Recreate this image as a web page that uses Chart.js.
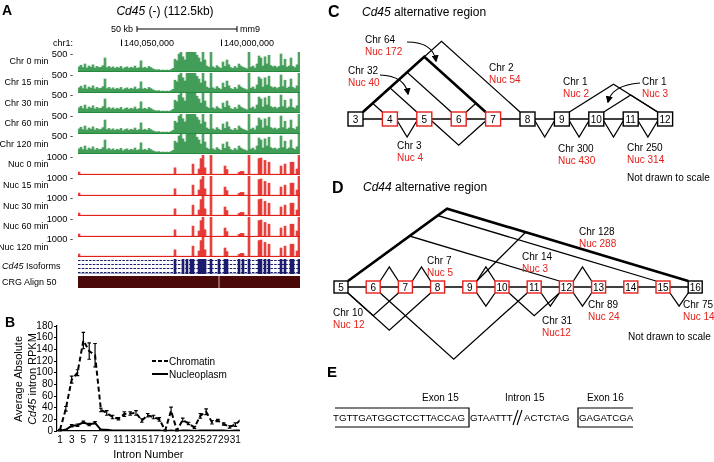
<!DOCTYPE html>
<html>
<head>
<meta charset="utf-8">
<script src="https://cdn.jsdelivr.net/npm/chart.js@4.4.0/dist/chart.umd.min.js"></script>
<style>
  html, body { margin: 0; padding: 0; background: #fff; }
  #page { position: relative; width: 714px; height: 462px; overflow: hidden; }
  #page canvas { position: absolute; }
  #fig { position: absolute; left: 0; top: 0; font-family: 'Liberation Sans', Arial, Helvetica, sans-serif; }
</style>
</head>
<body>
<div id="page">
  <canvas id="chartB" width="244" height="146" style="left:0;top:316px"></canvas>
  <svg id="fig" width="714" height="462"></svg>
</div>
<script>
// ---------- panel B data (intron RPKM) ----------
const introns        = [1,2,3,4,5,6,7,8,9,10,11,12,13,14,15,16,17,18,19,20,21,22,23,24,25,26,27,28,29,30,31,32];
const chromatin      = [2,38,88,100,155,137,130,36,31,24,21,29,30,31,18,27,24,20,1,35,1,19,13,6,26,33,15,18,12,7,11,20];
const chromatinErr   = [1,4,6,5,14,14,20,3,4,3,2,4,3,4,3,3,3,3,1,6,1,3,2,2,4,5,3,2,2,2,3,5];
const nucleoplasm    = [1,2,9,10,15,11,14,2,2,1,1,1,1,1,1,1,1,1,0,1,0,1,1,0,1,1,1,1,1,0,1,1];
const nucleoplasmErr = [1,1,2,2,2,2,2,1,0,0,0,0,0,0,0,0,0,0,0,0,0,0,0,0,0,0,0,0,0,0,0,0];
const xTickValues    = [1,3,5,7,9,11,13,15,17,19,21,23,25,27,29,31];
const yTickValues    = [0,20,40,60,80,100,120,140,160,180];

// ---------- panel A data (browser tracks, 2px bins) ----------
const chrProfile = [130,170,110,200,100,150,120,180,100,140,110,120,160,350,110,140,100,130,90,120,
  100,140,80,110,130,90,120,100,150,90,110,280,100,120,90,140,110,80,60,50,
  60,40,50,40,50,40,60,90,320,280,450,500,380,300,500,500,500,500,500,420,
  350,250,500,300,150,120,500,130,100,160,120,90,250,140,300,180,110,90,140,100,
  200,150,120,100,80,500,120,150,100,200,400,350,150,380,200,420,160,130,150,110,
  140,450,160,320,120,150,350,140,110,180,500];
const nucProfile = [150,40,40,40,40,40,40,40,40,40,40,40,40,40,40,40,40,40,40,40,
  40,40,40,40,40,40,40,40,40,40,40,40,40,40,40,40,40,40,40,40,
  40,40,40,40,40,40,40,40,360,40,40,40,40,40,40,40,40,545,40,40,
  300,820,1000,360,40,40,1000,40,40,40,40,40,40,450,270,40,40,40,40,40,
  130,180,180,40,40,1000,40,40,40,40,820,850,40,730,40,640,40,40,40,40,
  40,450,40,545,40,40,640,640,40,300,1000];
const isoformExonBins = [48,52,54,56,57,60,61,62,63,66,70,73,74,80,82,85,90,91,93,95,101,103,106,107,110];
const chrLabels  = ['Chr 0 min','Chr 15 min','Chr 30 min','Chr 60 min','Chr 120 min'];
const nucLabels  = ['Nuc 0 min','Nuc 15 min','Nuc 30 min','Nuc 60 min','Nuc 120 min'];
const chrMax = 500, nucMax = 1000;

// ---------- panel C / D data (splice junction read counts) ----------
const cd45Exons    = [3,4,5,6,7,8,9,10,11,12];
const cd45Variable = [4,5,6,7];
const cd45Upper    = [[3,8],[3,4],[3,5],[3,6],[6,7],[9,12],[10,12]];
const cd45Main     = [[3,7]];
const cd45Lower    = [[4,5],[5,7],[8,9],[9,10],[10,11],[11,12]];
const cd45Chr      = [64,32,2,1,1,3,300,250];
const cd45Nuc      = [172,40,54,2,3,4,430,314];

const cd44Exons    = [5,6,7,8,9,10,11,12,13,14,15,16];
const cd44Variable = [6,7,8,9,10,11,12,13,14,15];
const cd44Upper    = [[5,15],[5,12],[9,16],[6,7],[7,8],[9,10],[12,13]];
const cd44Main     = [[5,16]];
const cd44Lower    = [[5,7],[5,8],[6,11],[9,10],[10,12],[11,12],[12,13],[15,16]];
const cd44Chr      = [128,7,14,10,31,89,75];
const cd44Nuc      = [288,5,3,12,12,24,14];

// ---------- helpers ----------
const FONT = "'Liberation Sans', Arial, Helvetica, sans-serif";
const RED = '#e3201b', GREEN = '#23893b', NAVY = '#1c1c6e';
Chart.defaults.font.family = FONT;
Chart.defaults.color = '#000';

const svg = document.getElementById('fig');
const NS = 'http://www.w3.org/2000/svg';
function el(tag, attrs) {
  const e = document.createElementNS(NS, tag);
  for (const k in attrs) e.setAttribute(k, attrs[k]);
  svg.appendChild(e);
  return e;
}
function txt(x, y, s, attrs = {}) {
  const t = el('text', Object.assign({ x, y, 'font-size': 10, fill: '#000' }, attrs));
  t.textContent = s;
  return t;
}
// parts: [[text, italic], ...]
function rich(x, y, parts, attrs = {}) {
  const t = el('text', Object.assign({ x, y, 'font-size': 10, fill: '#000' }, attrs));
  parts.forEach(([s, it]) => {
    const sp = document.createElementNS(NS, 'tspan');
    if (it) sp.setAttribute('font-style', 'italic');
    sp.textContent = s;
    t.appendChild(sp);
  });
  return t;
}
function seg(x1, y1, x2, y2, w = 1.3, color = '#000', extra = {}) {
  return el('line', Object.assign({ x1, y1, x2, y2, stroke: color, 'stroke-width': w }, extra));
}
function poly(pts, w = 1.3) {
  return el('polyline', { points: pts.map(p => p.join(',')).join(' '), fill: 'none', stroke: '#000', 'stroke-width': w, 'stroke-linejoin': 'miter' });
}

// ---------- panel A: tracks ----------
const page = document.getElementById('page');
function trackChart(top, height, values, color, max) {
  const cv = document.createElement('canvas');
  cv.width = 222; cv.height = height;
  cv.style.left = '78px'; cv.style.top = top + 'px';
  page.insertBefore(cv, svg);
  return new Chart(cv, {
    type: 'bar',
    data: {
      labels: values.map((_, i) => i),
      datasets: [{ data: values, backgroundColor: color, borderWidth: 0, barPercentage: 1, categoryPercentage: 1 }]
    },
    options: {
      responsive: false, animation: false, events: [],
      layout: { padding: 0 },
      plugins: { legend: { display: false }, tooltip: { enabled: false } },
      scales: { x: { display: false }, y: { display: false, min: 0, max } }
    }
  });
}

const trackStep = 20.6;
[...chrLabels, ...nucLabels].forEach((label, t) => {
  const isChr = t < chrLabels.length;
  const top = 52 + t * trackStep;
  const ct = Math.round(top);
  trackChart(ct, 20, isChr ? chrProfile : nucProfile, isChr ? 'rgba(30,138,55,0.78)' : 'rgba(227,32,27,0.85)', isChr ? chrMax : nucMax);
  seg(78, ct + 19.5, 300, ct + 19.5, 1, isChr ? GREEN : RED);
  txt(48.5, top + 12.3, label, { 'font-size': 9, 'text-anchor': 'end' });
  txt(73, top + 5, (isChr ? chrMax : nucMax) + ' -', { 'font-size': 9.3, 'text-anchor': 'end' });
});

// isoforms track
trackChart(259, 15, nucProfile.map((_, i) => isoformExonBins.includes(i) ? 1 : 0), NAVY, 1);
[260.5, 264.5, 268.5, 272.5].forEach(y => seg(78, y, 300, y, 1.2, NAVY, { 'stroke-dasharray': '2.5,1.2' }));
rich(2, 268.5, [['Cd45', true], [' Isoforms', false]], { 'font-size': 9 });

// CRG alignability track
el('rect', { x: 78, y: 276, width: 222, height: 12, fill: '#4a0909' });
seg(219, 276, 219, 288, 1, '#d9b0b0');
txt(2, 285, 'CRG Align 50', { 'font-size': 9 });

// header of panel A
txt(2, 15, 'A', { 'font-size': 14, 'font-weight': 'bold' });
rich(165, 15, [['Cd45', true], [' (-) (112.5kb)', false]], { 'font-size': 12, 'text-anchor': 'middle' });
txt(133, 32, '50 kb', { 'font-size': 9, 'text-anchor': 'end' });
seg(137, 29, 237, 29, 1);
seg(137, 26, 137, 32, 1);
seg(237, 26, 237, 32, 1);
txt(240, 32, 'mm9', { 'font-size': 9 });
txt(73, 46, 'chr1:', { 'font-size': 9, 'text-anchor': 'end' });
seg(121.5, 39.5, 121.5, 46, 1);
txt(124, 46, '140,050,000', { 'font-size': 9 });
seg(221.5, 39.5, 221.5, 46, 1);
txt(224, 46, '140,000,000', { 'font-size': 9 });

// ---------- panel B: Chart.js line chart with error bars ----------
const errorBars = {
  id: 'errorBars',
  afterDatasetsDraw(chart) {
    const { ctx, chartArea, scales: { x, y } } = chart;
    ctx.save();
    ctx.strokeStyle = '#000';
    ctx.lineWidth = 1.2;
    chart.data.datasets.forEach(ds => {
      ds.data.forEach((p, i) => {
        const e = ds.errors[i];
        const px = x.getPixelForValue(p.x);
        if (!e || px > chartArea.right) return;
        const y1 = y.getPixelForValue(p.y + e), y2 = y.getPixelForValue(Math.max(0, p.y - e));
        ctx.beginPath();
        ctx.moveTo(px, y1); ctx.lineTo(px, y2);
        ctx.moveTo(px - 1.8, y1); ctx.lineTo(px + 1.8, y1);
        ctx.moveTo(px - 1.8, y2); ctx.lineTo(px + 1.8, y2);
        ctx.stroke();
      });
    });
    ctx.restore();
  }
};

const chartB = new Chart(document.getElementById('chartB'), {
  type: 'line',
  data: {
    datasets: [
      { label: 'Chromatin', data: introns.map((n, i) => ({ x: n, y: chromatin[i] })), errors: chromatinErr,
        borderColor: '#000', borderWidth: 2, borderDash: [5, 3], pointRadius: 0, tension: 0 },
      { label: 'Nucleoplasm', data: introns.map((n, i) => ({ x: n, y: nucleoplasm[i] })), errors: nucleoplasmErr,
        borderColor: '#000', borderWidth: 2, pointRadius: 0, tension: 0 }
    ]
  },
  options: {
    responsive: false, animation: false, events: [],
    layout: { padding: { top: 10, right: 3, left: 0, bottom: 0 } },
    plugins: { legend: { display: false }, tooltip: { enabled: false } },
    scales: {
      x: {
        type: 'linear', min: 0.49, max: 31.73,
        afterBuildTicks: s => { s.ticks = xTickValues.map(v => ({ value: v })); },
        afterFit: s => { s.height = 31; },
        ticks: { autoSkip: false, maxRotation: 0, padding: 3, color: '#000', font: { size: 10 } },
        grid: { display: false, drawTicks: false },
        border: { color: '#000', width: 1.2 },
        title: { display: true, text: 'Intron Number', color: '#000', font: { size: 11 }, padding: { top: 0, bottom: 0 } }
      },
      y: {
        min: 0, max: 180,
        afterBuildTicks: s => { s.ticks = yTickValues.map(v => ({ value: v })); },
        afterFit: s => { s.width = 57; },
        ticks: { autoSkip: false, padding: 1, color: '#000', font: { size: 10 } },
        grid: { drawOnChartArea: false, drawTicks: true, tickLength: 3, color: '#000' },
        border: { color: '#000', width: 1.2 }
      }
    }
  },
  plugins: [errorBars]
});

txt(5, 327, 'B', { 'font-size': 14, 'font-weight': 'bold' });
txt(22, 379, 'Average Absolute', { 'font-size': 11, 'text-anchor': 'middle', transform: 'rotate(-90 22 379)' });
rich(36, 379, [['Cd45', true], [' intron RPKM', false]], { 'font-size': 11, 'text-anchor': 'middle', transform: 'rotate(-90 36 379)' });
seg(152, 361, 168, 361, 2, '#000', { 'stroke-dasharray': '4,2' });
txt(169, 364.5, 'Chromatin', { 'font-size': 10 });
seg(152, 374, 168, 374, 2);
txt(169, 377.5, 'Nucleoplasm', { 'font-size': 10 });

// ---------- panels C / D: exon diagrams ----------
function drawGene(o) {
  const left = n => o.x0 + o.step * o.exons.indexOf(n);
  const right = n => left(n) + o.w;
  const yTop = o.top, yBot = o.top + o.h, yMid = o.top + o.h / 2;
  seg(right(o.exons[0]), yMid, left(o.exons[o.exons.length - 1]), yMid, 1.3);
  const upper = (list, w) => list.forEach(([a, b]) => {
    const xa = right(a), xb = left(b);
    const [ls, rs] = o.upperSlopes(a, b, (xb - xa) / 2);
    const xm = (ls * xa + rs * xb) / (ls + rs);
    poly([[xa, yTop], [xm, yTop - ls * (xm - xa)], [xb, yTop]], w);
  });
  upper(o.upper, 1.3);
  upper(o.main, 2.6);
  o.lower.forEach(([a, b]) => {
    const xa = right(a), xb = left(b);
    const y0 = o.lowerStart(yMid, yBot);
    poly([[xa, y0], [(xa + xb) / 2, y0 + o.lowerDepth(a, b, (xb - xa) / 2)], [xb, y0]], 1.3);
  });
  o.exons.forEach(n => {
    const alt = o.variable.includes(n);
    el('rect', { x: left(n), y: yTop, width: o.w, height: o.h, fill: '#fff', stroke: alt ? RED : '#000', 'stroke-width': 1.4 });
    txt(left(n) + o.w / 2, yMid + 3.6, String(n), { 'font-size': 10, 'text-anchor': 'middle' });
  });
}

drawGene({
  exons: cd45Exons, variable: cd45Variable, upper: cd45Upper, main: cd45Main, lower: cd45Lower,
  x0: 348, step: 34.4, top: 112, w: 15, h: 14,
  upperSlopes: a => a >= 8 ? [0.63, 0.63] : [0.9, 0.9],
  lowerStart: (yMid) => yMid + 2,
  lowerDepth: (a, b, half) => Math.max(16, 0.9 * half)
});

drawGene({
  exons: cd44Exons, variable: cd44Variable, upper: cd44Upper, main: cd44Main, lower: cd44Lower,
  x0: 334, step: 32.2, top: 281, w: 14, h: 12,
  upperSlopes: (a, b, half) => b - a === 1 ? [14 / half, 14 / half] : [a === 5 ? 0.73 : 1.0, 0.3],
  lowerStart: (yMid, yBot) => yBot,
  lowerDepth: (a, b, half) => b - a === 1 ? 13 : 0.9 * half
});

// arrows in panel C
const defs = el('defs', {});
const marker = document.createElementNS(NS, 'marker');
[['id', 'arr'], ['viewBox', '0 0 10 10'], ['refX', '8'], ['refY', '5'], ['markerWidth', '6'], ['markerHeight', '6'], ['orient', 'auto']]
  .forEach(([k, v]) => marker.setAttribute(k, v));
const head = document.createElementNS(NS, 'path');
head.setAttribute('d', 'M0,0 L10,5 L0,10 z');
marker.appendChild(head);
defs.appendChild(marker);
[['M407,42 Q433,42 436,61'], ['M380,75 Q405,76 408,94'], ['M640,83 Q612,85 608,102']].forEach(([d]) =>
  el('path', { d, fill: 'none', stroke: '#000', 'stroke-width': 1.2, 'marker-end': 'url(#arr)' }));

// read-count labels
const cd45LabelPos = [[365, 42.5], [348, 73.5], [489, 70.5], [563, 84.5], [642, 84.5], [397, 148.5], [558, 151.5], [627, 150.5]];
cd45LabelPos.forEach(([x, y], i) => {
  txt(x, y, 'Chr ' + cd45Chr[i]);
  txt(x, y + 12.5, 'Nuc ' + cd45Nuc[i], { fill: RED });
});
const cd44LabelPos = [[579, 234.5], [427, 263.5], [522, 259.5], [333, 315.5], [542, 323.5], [588, 307.5], [683, 307.5]];
cd44LabelPos.forEach(([x, y], i) => {
  txt(x, y, 'Chr ' + cd44Chr[i]);
  txt(x, y + 12, (i === 4 ? 'Nuc' : 'Nuc ') + cd44Nuc[i], { fill: RED });
});

txt(328, 17, 'C', { 'font-size': 16, 'font-weight': 'bold' });
rich(362, 16, [['Cd45', true], [' alternative region', false]], { 'font-size': 12 });
txt(627, 180.5, 'Not drawn to scale');
txt(332, 193, 'D', { 'font-size': 16, 'font-weight': 'bold' });
rich(363, 191, [['Cd44', true], [' alternative region', false]], { 'font-size': 12 });
txt(628, 339.5, 'Not drawn to scale');

// ---------- panel E: sequence ----------
txt(327, 377, 'E', { 'font-size': 15, 'font-weight': 'bold' });
txt(422, 400.5, 'Exon 15');
txt(505, 400.5, 'Intron 15');
txt(587, 400.5, 'Exon 16');
txt(333, 420.5, 'TGTTGATGGCTCCTTACCAG', { 'font-size': 9.7 });
txt(470, 420.5, 'GTAATTT', { 'font-size': 9.7 });
seg(513, 425, 518, 410, 1.1);
seg(517, 425, 522, 410, 1.1);
txt(524, 420.5, 'ACTCTAG', { 'font-size': 9.7 });
txt(579, 420.5, 'GAGATCGA', { 'font-size': 9.7 });
poly([[335, 408], [469, 408], [469, 427], [335, 427]], 1.2);
poly([[633, 408], [578, 408], [578, 427], [633, 427]], 1.2);
</script>
</body>
</html>
